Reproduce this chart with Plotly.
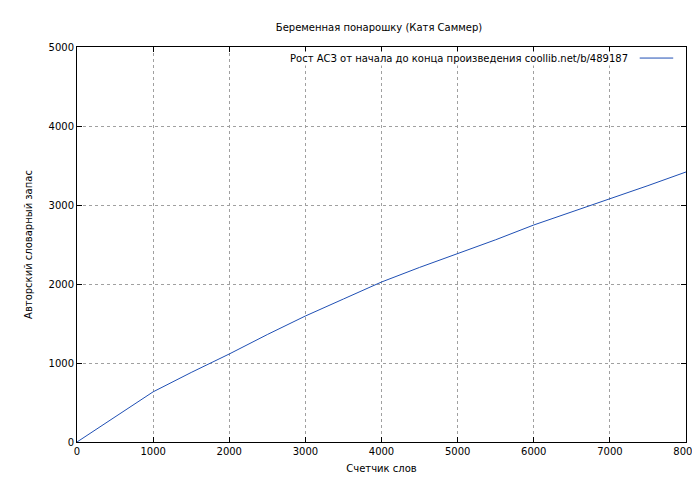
import plotly.graph_objects as go

words = [0, 500, 1000, 1500, 2000, 2500, 3000, 3500, 4000, 4500, 5000, 5500, 6000, 6500, 7000, 7500, 8000]
vocab = [0, 320, 635, 880, 1114, 1360, 1595, 1810, 2025, 2210, 2380, 2560, 2747, 2910, 3076, 3245, 3418]

title = "Беременная понарошку (Катя Саммер)"
legend_text = "Рост АСЗ от начала до конца произведения coollib.net/b/489187"
x_title = "Счетчик слов"
y_title = "Авторский словарный запас"
x_ticks = [0, 1000, 2000, 3000, 4000, 5000, 6000, 7000, 8000]
y_ticks = [0, 1000, 2000, 3000, 4000, 5000]

fig = go.Figure(go.Scatter(x=words, y=vocab, mode="lines",
                           line=dict(color="#1f4fb4", width=1), showlegend=False))

axis = dict(showline=True, linecolor="black", linewidth=1, mirror="ticks",
            ticks="inside", ticklen=5, tickcolor="black", automargin=False,
            showgrid=True, gridcolor="#a0a0a0", griddash="dot", gridwidth=1,
            zeroline=False, tickfont=dict(size=10, color="black"))

fig.update_layout(
    width=700, height=480, plot_bgcolor="white", paper_bgcolor="white",
    font=dict(family="DejaVu Sans", size=10, color="black"),
    margin=dict(l=69, r=22, t=39, b=46),
    title=dict(text=title, x=0.53, xanchor="center", y=0.96, yanchor="middle",
               automargin=False, font=dict(size=10)),
    xaxis=dict(axis, range=[0, 8000], tickvals=x_ticks,
               title=dict(text=x_title, standoff=8, font=dict(size=10))),
    yaxis=dict(axis, range=[0, 5000], tickvals=y_ticks,
               title=dict(text=y_title, standoff=14, font=dict(size=10))),
)
fig.add_annotation(text=legend_text, xref="paper", yref="paper", x=0.908, y=0.972,
                   xanchor="right", yanchor="middle", showarrow=False,
                   font=dict(size=10), bgcolor="white")
fig.add_shape(type="line", xref="paper", yref="paper", x0=0.924, x1=0.979,
              y0=0.972, y1=0.972, line=dict(color="#1f4fb4", width=1))
fig.write_html("out.html")
